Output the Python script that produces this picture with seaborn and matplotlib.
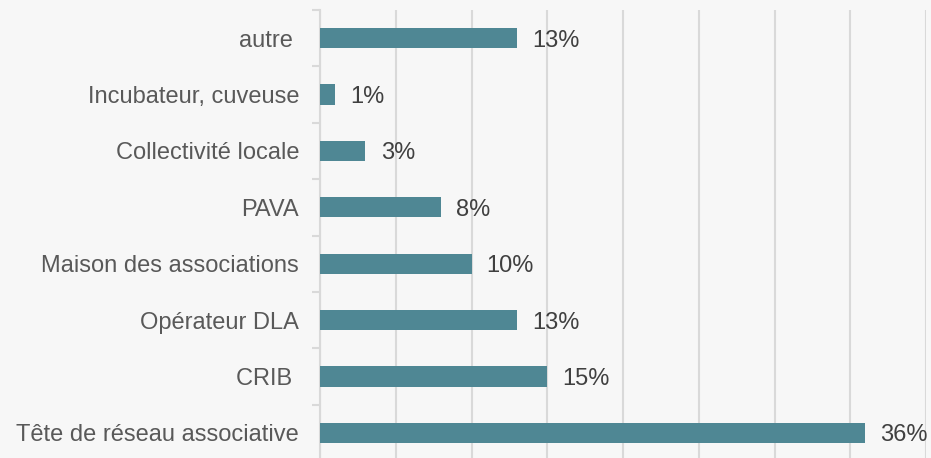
import matplotlib.pyplot as plt
import numpy as np
import pandas as pd
import seaborn as sns

categories = ["autre ", "Incubateur, cuveuse", "Collectivité locale", "PAVA",
              "Maison des associations", "Opérateur DLA", "CRIB ",
              "Tête de réseau associative"]
values = [13, 1, 3, 8, 10, 13, 15, 36]
labels = ["13%", "1%", "3%", "8%", "10%", "13%", "15%", "36%"]

BG = "#f7f7f7"
BAR = "#4f8794"
GRID = "#d9d9d9"


def make_plot():
    sns.set_style("white")
    plt.rcParams['font.family'] = ['Liberation Sans', 'DejaVu Sans']
    df = pd.DataFrame({"cat": categories, "val": values})

    fig = plt.figure(figsize=(9.31, 4.58), dpi=100, facecolor=BG)
    ax = fig.add_axes([320 / 931, -3 / 458, 606 / 931, 451 / 458])
    ax.set_facecolor(BG)

    sns.barplot(data=df, x="val", y="cat", orient="h", color=BAR,
                width=0.36, saturation=1, linewidth=0, ax=ax, zorder=3)

    ax.set_xlim(0, 40)
    ax.set_ylim(7.5, -0.5)
    ax.set_xticks(np.arange(0, 41, 5))
    ax.xaxis.grid(True, color=GRID, linewidth=1.5, zorder=0)
    ax.tick_params(axis="x", length=0, labelbottom=False)
    ax.tick_params(axis="y", which="major", left=False, length=0, pad=15,
                   labelsize=17, labelcolor="#595959")
    ax.set_yticks(np.arange(-0.5, 8, 1), minor=True)
    ax.tick_params(axis="y", which="minor", left=True, length=6,
                   color=GRID, width=1.5)
    ax.set_xlabel("")
    ax.set_ylabel("")
    for s in ["top", "right", "bottom"]:
        ax.spines[s].set_visible(False)
    ax.spines["left"].set_color(GRID)
    ax.spines["left"].set_linewidth(1.5)

    for i, (v, t) in enumerate(zip(values, labels)):
        ax.text(v + 1.0, i, t, va="center_baseline", ha="left", fontsize=17,
                color="#404040", clip_on=False)

    fig.savefig("out.png", dpi=100, facecolor=BG)


if __name__ == "__main__":
    make_plot()
